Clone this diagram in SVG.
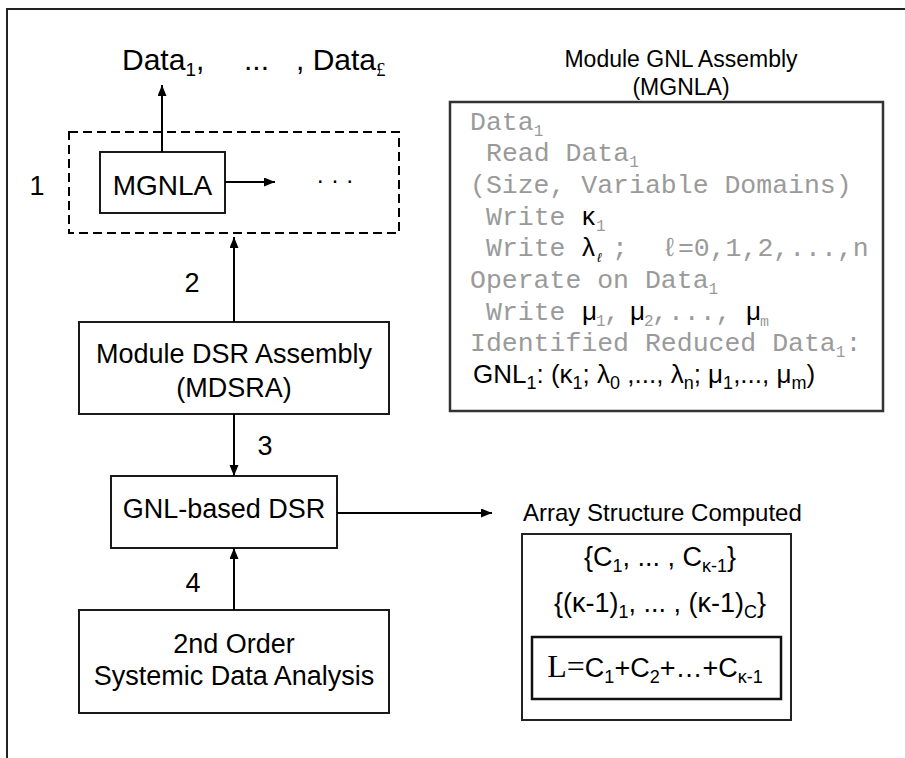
<svg xmlns="http://www.w3.org/2000/svg" width="905" height="758" viewBox="0 0 905 758">
<defs>
<marker id="ah" markerWidth="12" markerHeight="10" refX="11" refY="4.5" orient="auto" markerUnits="userSpaceOnUse">
<path d="M0,0 L11,4.5 L0,9 z" fill="#000"/>
</marker>
<style>
.box{fill:#fff;stroke:#1a1a1a;stroke-width:2}
.lbl{font-family:"Liberation Sans",Arial,sans-serif;font-size:27px;fill:#000}
.ttl{font-family:"Liberation Sans",Arial,sans-serif;font-size:23px;fill:#000}
.mono{font-family:"Liberation Mono","Courier New",monospace;font-size:26.5px;fill:#9a9a9a}
.gr{font-family:"Liberation Sans",Arial,sans-serif;font-size:26px;fill:#000}
.conn{stroke:#000;stroke-width:2;fill:none}
</style>
</defs>
<rect width="905" height="758" fill="#fff"/>
<path d="M7,758 V9 H905" fill="none" stroke="#222" stroke-width="2"/>

<g id="outputs">
<text class="lbl" style="font-size:30px" x="122" y="70">Data<tspan dy="6" font-size="19">1</tspan><tspan dy="-6">,</tspan></text>
<text class="lbl" style="font-size:30px" x="244" y="70">...</text>
<text class="lbl" style="font-size:30px" x="296" y="70">, Data<tspan dy="6" font-size="19" font-family="Liberation Serif, serif">£</tspan></text>
</g>

<g id="module-group">
<rect x="69" y="132" width="330" height="101" fill="none" stroke="#000" stroke-width="2" stroke-dasharray="9,5"/>
<text class="lbl" x="37" y="195" text-anchor="middle">1</text>
<text class="lbl" style="font-size:24px" x="335" y="188" text-anchor="middle">· · ·</text>
</g>

<g id="mgnla">
<rect class="box" x="100" y="152" width="125" height="61"/>
<text class="lbl" style="font-size:28px" x="162.5" y="195" text-anchor="middle">MGNLA</text>
</g>

<g id="mdsra">
<rect class="box" x="79" y="322" width="310" height="92"/>
<text class="lbl" x="234" y="363" text-anchor="middle">Module DSR Assembly</text>
<text class="lbl" x="234" y="397" text-anchor="middle">(MDSRA)</text>
</g>

<g id="gnl-dsr">
<rect class="box" x="111" y="476" width="226" height="72"/>
<text class="lbl" x="224" y="518" text-anchor="middle">GNL-based DSR</text>
</g>

<g id="analysis">
<rect class="box" x="79" y="610" width="310" height="103"/>
<text class="lbl" x="234" y="653" text-anchor="middle">2nd Order</text>
<text class="lbl" x="234" y="685" text-anchor="middle">Systemic Data Analysis</text>
</g>

<g id="step-labels">
<text class="lbl" x="192" y="292" text-anchor="middle">2</text>
<text class="lbl" x="265" y="455" text-anchor="middle">3</text>
<text class="lbl" x="193" y="592" text-anchor="middle">4</text>
</g>

<g id="connectors">
<line class="conn" x1="162" y1="152" x2="162" y2="85" marker-end="url(#ah)"/>
<line class="conn" x1="225" y1="182" x2="275" y2="182" marker-end="url(#ah)"/>
<line class="conn" x1="234" y1="322" x2="234" y2="237" marker-end="url(#ah)"/>
<line class="conn" x1="234" y1="414" x2="234" y2="476" marker-end="url(#ah)"/>
<line class="conn" x1="234" y1="610" x2="234" y2="548" marker-end="url(#ah)"/>
<line class="conn" x1="337" y1="513" x2="492" y2="513" marker-end="url(#ah)"/>
</g>

<g id="mgnla-detail">
<text class="ttl" x="681" y="67" text-anchor="middle">Module GNL Assembly</text>
<text class="ttl" x="681" y="95" text-anchor="middle">(MGNLA)</text>
<rect x="450" y="102" width="433" height="309" fill="#fff" stroke="#333" stroke-width="2.5"/>
<text class="mono" x="470" y="130">Data<tspan dy="6" font-size="16">1</tspan></text>
<text class="mono" x="486" y="161">Read Data<tspan dy="6" font-size="16">1</tspan></text>
<text class="mono" x="470" y="193">(Size, Variable Domains)</text>
<text class="mono" x="486" y="225">Write</text>
<text class="gr" x="582" y="225">κ</text>
<text class="mono" style="font-size:16px" x="596" y="231">1</text>
<text class="mono" x="486" y="256">Write</text>
<text class="gr" x="582" y="256">λ</text>
<text class="gr" style="font-size:13px;font-style:italic" x="597" y="262">ℓ</text>
<text class="mono" x="612" y="256">;</text>
<text class="mono" x="662" y="256">ℓ=0,1,2,...,n</text>
<text class="mono" x="470" y="288">Operate on Data<tspan dy="6" font-size="16">1</tspan></text>
<text class="mono" x="486" y="320">Write</text>
<text class="gr" x="582" y="320">μ</text>
<text class="mono" style="font-size:16px" x="596" y="326">1</text>
<text class="mono" x="604" y="320">,</text>
<text class="gr" x="630" y="320">μ</text>
<text class="mono" style="font-size:16px" x="644" y="326">2</text>
<text class="mono" x="652" y="320">,...,</text>
<text class="gr" x="746" y="320">μ</text>
<text class="mono" style="font-size:15px" x="760" y="326">m</text>
<text class="mono" x="470" y="351">Identified Reduced Data<tspan dy="6" font-size="16">1</tspan><tspan dy="-6">:</tspan></text>
<text class="gr" x="473" y="383">GNL<tspan dy="6" font-size="18">1</tspan><tspan dy="-6">: (κ</tspan><tspan dy="6" font-size="18">1</tspan><tspan dy="-6">; λ</tspan><tspan dy="6" font-size="18">0</tspan><tspan dy="-6"> ,..., λ</tspan><tspan dy="6" font-size="18">n</tspan><tspan dy="-6">; μ</tspan><tspan dy="6" font-size="18">1</tspan><tspan dy="-6">,..., μ</tspan><tspan dy="6" font-size="18">m</tspan><tspan dy="-6">)</tspan></text>
</g>

<g id="array-structure">
<text class="ttl" style="font-size:24px" x="523" y="521">Array Structure Computed</text>
<rect x="522" y="534" width="269" height="186" fill="#fff" stroke="#222" stroke-width="2"/>
<text class="lbl" x="660" y="566" text-anchor="middle">{C<tspan dy="6" font-size="18">1</tspan><tspan dy="-6">, ... , C</tspan><tspan dy="6" font-size="18">κ-1</tspan><tspan dy="-6">}</tspan></text>
<text class="lbl" x="660" y="612" text-anchor="middle">{(κ-1)<tspan dy="6" font-size="18">1</tspan><tspan dy="-6">, ... , (κ-1)</tspan><tspan dy="6" font-size="18">C</tspan><tspan dy="-6">}</tspan></text>
<rect x="532" y="637" width="249" height="62" fill="none" stroke="#111" stroke-width="2.5"/>
<text class="lbl" x="655" y="677" text-anchor="middle"><tspan font-family="Liberation Serif,serif" font-size="32">L=</tspan>C<tspan dy="6" font-size="18">1</tspan><tspan dy="-6">+C</tspan><tspan dy="6" font-size="18">2</tspan><tspan dy="-6">+…+C</tspan><tspan dy="6" font-size="18">κ-1</tspan></text>
</g>
</svg>
